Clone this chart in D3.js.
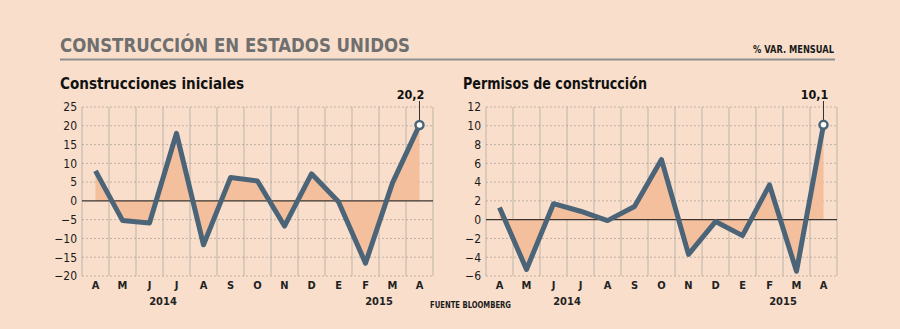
<!DOCTYPE html>
<html>
<head>
<meta charset="utf-8">
<script src="https://cdn.jsdelivr.net/npm/d3@7"></script>
<style>
  body { margin: 0; background: #f9dfcb; }
  svg { display: block; }
  text { font-family: "DejaVu Sans Condensed", "DejaVu Sans", sans-serif; }
</style>
</head>
<body>
<script>
// months, abril 2014 -> abril 2015
var months = ["A", "M", "J", "J", "A", "S", "O", "N", "D", "E", "F", "M", "A"];
var inicialesValues = [8, -5.2, -5.9, 18, -11.7, 6.2, 5.3, -6.7, 7.2, -0.2, -16.6, 4.8, 20.2];
var permisosValues = [1.3, -5.3, 1.7, 0.9, -0.1, 1.4, 6.4, -3.7, -0.2, -1.7, 3.7, -5.5, 10.1];
var inicialesTicks = [25, 20, 15, 10, 5, 0, -5, -10, -15, -20];
var permisosTicks = [12, 10, 8, 6, 4, 2, 0, -2, -4, -6];
var years = [{label: "2014", at: 3}, {label: "2015", at: 11}];

var w = 900, h = 329;
var lineColor = "#4b6478";
var fillColor = "#f4bf9c";

var svg = d3.select("body")
  .append("svg")
  .attr("width", w)
  .attr("height", h);

svg.append("rect").attr("width", w).attr("height", h).attr("fill", "#f9dfcb");

// header
svg.append("text")
  .attr("x", 60).attr("y", 52)
  .attr("font-size", 19).attr("font-weight", "bold")
  .attr("fill", "#6f6f6f")
  .attr("textLength", 350).attr("lengthAdjust", "spacingAndGlyphs")
  .text("CONSTRUCCIÓN EN ESTADOS UNIDOS");

svg.append("text")
  .attr("x", 834).attr("y", 52.5)
  .attr("text-anchor", "end")
  .attr("font-size", 10).attr("font-weight", "bold")
  .attr("fill", "#1a1a1a")
  .attr("textLength", 81).attr("lengthAdjust", "spacingAndGlyphs")
  .text("% VAR. MENSUAL");

svg.append("line")
  .attr("x1", 60).attr("x2", 835)
  .attr("y1", 59.5).attr("y2", 59.5)
  .attr("stroke", "#8e8e8e").attr("stroke-width", 2);

svg.append("text")
  .attr("x", 430).attr("y", 307.5)
  .attr("font-size", 8.5).attr("font-weight", "bold")
  .attr("fill", "#1a1a1a")
  .attr("textLength", 81).attr("lengthAdjust", "spacingAndGlyphs")
  .text("FUENTE BLOOMBERG");

function panel(opts) {
  var g = svg.append("g");

  var x = d3.scaleBand()
    .domain(d3.range(months.length))
    .range([opts.x0, opts.x0 + 27 * months.length]);

  var y = d3.scaleLinear()
    .domain(opts.domain)
    .range([276, 107]);

  g.append("text")
    .attr("x", opts.titleX).attr("y", 88.5)
    .attr("font-size", 15.5).attr("font-weight", "bold")
    .attr("fill", "#111")
    .attr("textLength", 184).attr("lengthAdjust", "spacingAndGlyphs")
    .text(opts.title);

  // vertical grid
  var bounds = d3.range(months.length + 1);
  g.append("g").selectAll("line")
    .data(bounds)
    .enter()
    .append("line")
    .attr("x1", (d) => opts.x0 + d * x.step())
    .attr("x2", (d) => opts.x0 + d * x.step())
    .attr("y1", y.range()[1])
    .attr("y2", y.range()[0])
    .attr("stroke", "#bdb3aa")
    .attr("stroke-width", 1);

  // horizontal grid
  g.append("g").selectAll("line")
    .data(opts.ticks.filter((d) => d != 0))
    .enter()
    .append("line")
    .attr("x1", x.range()[0]).attr("x2", x.range()[1])
    .attr("y1", (d) => y(d)).attr("y2", (d) => y(d))
    .attr("stroke", "#a89d94")
    .attr("stroke-width", 0.7)
    .attr("stroke-dasharray", "2,2");

  // y axis labels
  var yAxis = d3.axisLeft(y)
    .tickValues(opts.ticks)
    .tickSize(0)
    .tickPadding(5);
  var ya = g.append("g")
    .attr("transform", "translate(" + x.range()[0] + ",0)")
    .call(yAxis);
  ya.select(".domain").remove();
  ya.selectAll("text")
    .attr("font-family", "DejaVu Sans Condensed, DejaVu Sans, sans-serif")
    .attr("font-size", 12)
    .attr("fill", "#1a1a1a");

  // month axis
  var xAxis = d3.axisBottom(x)
    .tickSize(0)
    .tickPadding(0)
    .tickFormat((d) => months[d]);
  var xa = g.append("g")
    .attr("transform", "translate(0,281)")
    .call(xAxis);
  xa.select(".domain").remove();
  xa.selectAll("text")
    .attr("font-family", "DejaVu Sans Condensed, DejaVu Sans, sans-serif")
    .attr("font-size", 11)
    .attr("font-weight", "bold")
    .attr("fill", "#222");

  g.append("g").selectAll("text")
    .data(years)
    .enter()
    .append("text")
    .attr("x", (d) => opts.x0 + d.at * x.step())
    .attr("y", 305)
    .attr("text-anchor", "middle")
    .attr("font-size", 11).attr("font-weight", "bold")
    .attr("fill", "#222")
    .text((d) => d.label);

  var cx = (i) => x(i) + x.bandwidth() / 2;

  var area = d3.area()
    .x((d, i) => cx(i))
    .y0(y(0))
    .y1((d) => y(d));

  g.append("path")
    .datum(opts.values)
    .attr("d", area)
    .attr("fill", fillColor);

  // zero line
  g.append("line")
    .attr("x1", x.range()[0]).attr("x2", x.range()[1])
    .attr("y1", y(0)).attr("y2", y(0))
    .attr("stroke", "#3a3530")
    .attr("stroke-width", 1.4);

  var line = d3.line()
    .x((d, i) => cx(i))
    .y((d) => y(d));

  g.append("path")
    .datum(opts.values)
    .attr("d", line)
    .attr("fill", "none")
    .attr("stroke", lineColor)
    .attr("stroke-width", 5)
    .attr("stroke-linejoin", "round");

  var last = opts.values.length - 1;
  var lx = cx(last), ly = y(opts.values[last]);

  g.append("line")
    .attr("x1", lx).attr("x2", lx)
    .attr("y1", 101).attr("y2", ly)
    .attr("stroke", "#333")
    .attr("stroke-width", 1);

  g.append("circle")
    .attr("cx", lx).attr("cy", ly)
    .attr("r", 4)
    .attr("fill", "#fff")
    .attr("stroke", lineColor)
    .attr("stroke-width", 2.5);

  g.append("text")
    .attr("x", lx - 9).attr("y", 99)
    .attr("text-anchor", "middle")
    .attr("font-size", 12.5).attr("font-weight", "bold")
    .attr("fill", "#111")
    .text(String(opts.values[last]).replace(".", ","));
}

panel({
  x0: 82,
  titleX: 60,
  title: "Construcciones iniciales",
  domain: [-20, 25],
  ticks: inicialesTicks,
  values: inicialesValues
});

panel({
  x0: 486,
  titleX: 463,
  title: "Permisos de construcción",
  domain: [-6, 12],
  ticks: permisosTicks,
  values: permisosValues
});
</script>
</body>
</html>
